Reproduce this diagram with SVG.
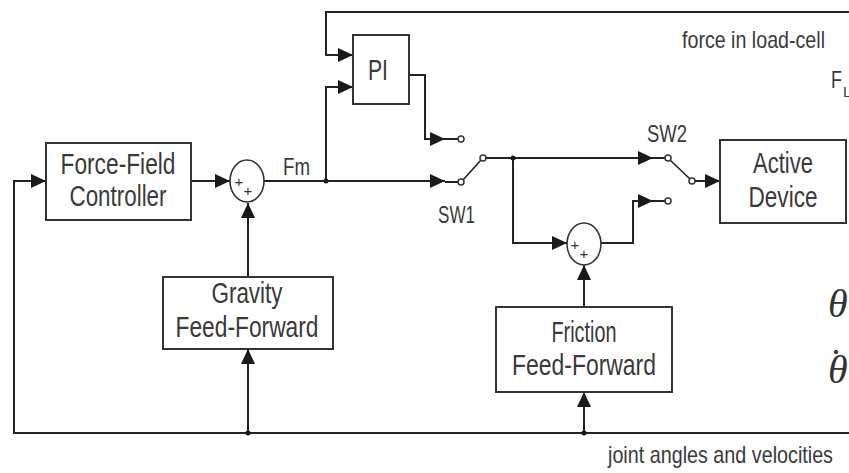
<svg xmlns="http://www.w3.org/2000/svg" width="849" height="473" viewBox="0 0 849 473">
<defs>
<marker id="arr" markerUnits="userSpaceOnUse" markerWidth="15" markerHeight="14" refX="15" refY="7" orient="auto">
<path d="M0,0 L15,7 L0,14 z" fill="#1a1a1a"/>
</marker>
<style>
.ln{fill:none;stroke:#222;stroke-width:2}
.box{fill:#fff;stroke:#333;stroke-width:2}
.sum{fill:#fff;stroke:#333;stroke-width:1.6}
.t{font-family:"Liberation Sans",Arial,sans-serif;fill:#3a3a3a;font-size:29px}
.s{font-family:"Liberation Sans",Arial,sans-serif;fill:#3a3a3a;font-size:24px}
.p{font-family:"Liberation Sans",Arial,sans-serif;fill:#333;font-size:15px;text-anchor:middle}
.g{font-family:"Liberation Serif","Times New Roman",serif;font-style:italic;fill:#333;font-size:40px}
.c{fill:#fff;stroke:#333;stroke-width:1.5}
.d{fill:#1a1a1a}
</style>
</defs>
<rect width="849" height="473" fill="#fff"/>
<g id="connectors">
<path class="ln" d="M849,12 H326 V55 H353" marker-end="url(#arr)"/>
<path class="ln" d="M326,181 V87 H353" marker-end="url(#arr)"/>
<path class="ln" d="M849,433 H14 V181 H46" marker-end="url(#arr)"/>
<path class="ln" d="M191,181 H230" marker-end="url(#arr)"/>
<path class="ln" d="M264,181 H445" marker-end="url(#arr)"/>
<path class="ln" d="M445,182 H458"/>
<path class="ln" d="M248,433 V349" marker-end="url(#arr)"/>
<path class="ln" d="M248,277 V203" marker-end="url(#arr)"/>
<path class="ln" d="M409,75 H425 V139 H445" marker-end="url(#arr)"/>
<path class="ln" d="M445,139 H458"/>
<path class="ln" style="stroke-width:1.6" d="M463,180 L481,160"/>
<path class="ln" d="M486,158 H653" marker-end="url(#arr)"/>
<path class="ln" d="M513,158 V243 H567" marker-end="url(#arr)"/>
<path class="ln" d="M601,243 H633 V201 H653" marker-end="url(#arr)"/>
<path class="ln" d="M653,158 H665"/>
<path class="ln" d="M653,201 H665"/>
<path class="ln" style="stroke-width:1.6" d="M670,160 L690,179"/>
<path class="ln" d="M695,181 H720" marker-end="url(#arr)"/>
<path class="ln" d="M584,307 V265" marker-end="url(#arr)"/>
<path class="ln" d="M584,433 V392" marker-end="url(#arr)"/>
<circle class="d" cx="326" cy="181" r="2.5"/>
<circle class="d" cx="513" cy="158" r="2.5"/>
<circle class="d" cx="248" cy="433" r="2.5"/>
<circle class="d" cx="584" cy="433" r="2.5"/>
<circle class="c" cx="461" cy="139" r="3"/>
<circle class="c" cx="461" cy="182" r="3"/>
<circle class="c" cx="483" cy="158" r="3"/>
<circle class="c" cx="668" cy="158" r="3"/>
<circle class="c" cx="668" cy="201" r="3"/>
<circle class="c" cx="692" cy="181" r="3"/>
</g>
<g id="force-field-controller">
<rect class="box" x="46" y="143" width="145" height="77"/>
<text class="t" x="118" y="174" text-anchor="middle" textLength="115" lengthAdjust="spacingAndGlyphs">Force-Field</text>
<text class="t" x="118" y="206" text-anchor="middle" textLength="97" lengthAdjust="spacingAndGlyphs">Controller</text>
</g>
<g id="sum1">
<ellipse class="sum" cx="247" cy="181" rx="17" ry="21"/>
<text class="p" x="239" y="187">+</text>
<text class="p" x="248" y="196">+</text>
</g>
<g id="pi">
<rect class="box" x="353" y="35" width="56" height="69"/>
<text class="t" x="378" y="80" text-anchor="middle" textLength="20" lengthAdjust="spacingAndGlyphs">PI</text>
</g>
<g id="gravity-ff">
<rect class="box" x="163" y="277" width="170" height="72"/>
<text class="t" x="247" y="303" text-anchor="middle" textLength="71" lengthAdjust="spacingAndGlyphs">Gravity</text>
<text class="t" x="247" y="337" text-anchor="middle" textLength="143" lengthAdjust="spacingAndGlyphs">Feed-Forward</text>
</g>
<g id="sum2">
<ellipse class="sum" cx="584" cy="244" rx="17" ry="21"/>
<text class="p" x="575" y="250">+</text>
<text class="p" x="584" y="259">+</text>
</g>
<g id="friction-ff">
<rect class="box" x="496" y="307" width="176" height="85"/>
<text class="t" x="584" y="342" text-anchor="middle" textLength="65" lengthAdjust="spacingAndGlyphs">Friction</text>
<text class="t" x="584" y="375" text-anchor="middle" textLength="144" lengthAdjust="spacingAndGlyphs">Feed-Forward</text>
</g>
<g id="active-device">
<rect class="box" x="720" y="140" width="126" height="83"/>
<text class="t" x="783" y="173" text-anchor="middle" textLength="60" lengthAdjust="spacingAndGlyphs">Active</text>
<text class="t" x="783" y="207" text-anchor="middle" textLength="69" lengthAdjust="spacingAndGlyphs">Device</text>
</g>
<g id="labels">
<text class="s" x="283" y="175" textLength="27" lengthAdjust="spacingAndGlyphs">Fm</text>
<text class="s" x="438" y="223" textLength="37" lengthAdjust="spacingAndGlyphs">SW1</text>
<text class="s" x="647" y="142" textLength="40" lengthAdjust="spacingAndGlyphs">SW2</text>
<text class="s" x="682" y="48" textLength="143" lengthAdjust="spacingAndGlyphs">force in load-cell</text>
<text class="s" x="831" y="88" textLength="11" lengthAdjust="spacingAndGlyphs">F</text>
<text class="s" x="843" y="97" style="font-size:15px">L</text>
<text class="s" x="608" y="463" textLength="225" lengthAdjust="spacingAndGlyphs">joint angles and velocities</text>
<text class="g" x="828" y="317">θ</text>
<text class="g" x="828" y="383">θ</text>
<text class="g" x="836" y="376" style="font-style:normal;text-anchor:middle">˙</text>
</g>
</svg>
